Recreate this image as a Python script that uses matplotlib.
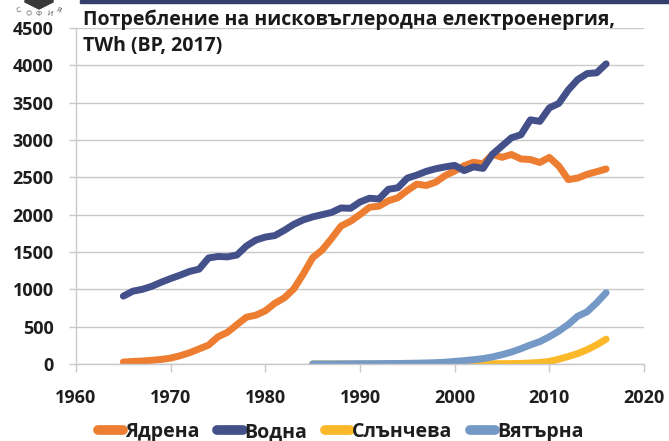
"""
Low-carbon electricity consumption chart (BP, 2017)
"""

import numpy as np
import matplotlib

matplotlib.use("Agg")
import matplotlib.pyplot as plt
from matplotlib.patches import Polygon, Rectangle

plt.rcParams["font.family"] = ["Open Sans", "DejaVu Sans"]

# data (TWh)
years_main = list(range(1965, 2017))
nuclear = [26, 34, 40, 50, 61, 79, 111, 151, 202, 253,
           364, 425, 527, 627, 654, 712, 813, 885, 1004, 1204,
           1424, 1526, 1682, 1848, 1912, 2001, 2099, 2114, 2186, 2227,
           2324, 2409, 2391, 2436, 2524, 2584, 2656, 2702, 2681, 2807,
           2768, 2806, 2746, 2738, 2699, 2767, 2651, 2470, 2490, 2541,
           2576, 2612]
hydro = [909, 975, 1000, 1040, 1095, 1145, 1190, 1240, 1270, 1420,
         1440, 1435, 1460, 1580, 1660, 1700, 1720, 1790, 1870, 1930,
         1970, 2000, 2030, 2090, 2085, 2170, 2220, 2210, 2340, 2360,
         2490, 2530, 2580, 2615, 2640, 2660, 2590, 2640, 2620, 2810,
         2920, 3030, 3070, 3270, 3250, 3430, 3490, 3670, 3810, 3890,
         3900, 4020]

years_new = list(range(1985, 2017))
solar = [0, 0, 0, 0, 0, 0, 0, 0, 0, 0,
         0, 0, 0, 0, 0, 1, 1.3, 1.8, 2.4, 3.4,
         4.5, 6, 8, 13, 21, 34, 65, 100, 140, 192,
         256, 333]
wind = [1, 1, 1, 2, 3, 4, 4, 5, 6, 7,
        9, 11, 14, 18, 24, 35, 45, 58, 72, 95,
        125, 160, 205, 255, 300, 365, 440, 530, 640, 700,
        820, 955]

labels = ["Ядрена", "Водна", "Слънчева", "Вятърна"]
colors = ["#ED7D31", "#44508A", "#FBB829", "#7599C6"]

xticks = list(range(1960, 2021, 10))
yticks = list(range(0, 4501, 500))

title = "Потребление на нисковъглеродна електроенергия,\nTWh (BP, 2017)"

W, H = 669, 441
fig = plt.figure(figsize=(W / 100, H / 100), dpi=100)
ax = fig.add_axes([76 / W, 1 - 364 / H, (644 - 76) / W, (364 - 28) / H])

series = [(years_main, nuclear), (years_main, hydro), (years_new, solar), (years_new, wind)]
for (xs, ys), lab, col in zip(series, labels, colors):
    ax.plot(xs, ys, color=col, lw=5, label=lab,
            solid_capstyle="round", solid_joinstyle="round")

grid_col = "#C9C9C9"
ax.set_xlim(1960, 2020)
ax.set_ylim(0, 4500)
ax.set_xticks(xticks)
ax.set_yticks(yticks)
ax.yaxis.grid(True, color=grid_col, lw=1)
ax.set_axisbelow(True)
for s in ["top", "right"]:
    ax.spines[s].set_visible(False)
for s in ["left", "bottom"]:
    ax.spines[s].set_color(grid_col)
    ax.spines[s].set_linewidth(1)
ax.tick_params(axis="x", length=6, width=1, color=grid_col, pad=12,
               labelsize=13, labelcolor="#1e1e1e")
ax.tick_params(axis="y", length=5, width=1, color=grid_col, pad=11,
               labelsize=13, labelcolor="#1e1e1e")
for t in ax.get_xticklabels() + ax.get_yticklabels():
    t.set_fontweight("bold")

fig.text(83 / W, 1 - 9 / H, title, fontsize=14, fontweight="bold",
         color="#1a1a1a", va="top", ha="left", linespacing=1.42)

leg = fig.legend(loc="center", bbox_to_anchor=(341 / W, 1 - 432 / H), ncol=4,
                 frameon=False, handlelength=1.3, handletextpad=0.1,
                 columnspacing=0.9, prop={"size": 14, "weight": "bold"})
for h in leg.get_lines():
    h.set_linewidth(7)
for t in leg.get_texts():
    t.set_color("#1e1e1e")

# top banner strip
fig.patches.append(Rectangle((80 / W, 1 - 3 / H), 1, 3 / H, transform=fig.transFigure,
                             color="#34406B", zorder=5))

# partial logo in the corner
chev = [(25, 0), (53, 0), (53, 2), (39, 9), (25, 2)]
fig.patches.append(Polygon([(x / W, 1 - y / H) for x, y in chev], closed=True,
                           transform=fig.transFigure, color="#3a3a3a"))
for ch, x, y, r in [("С", 19, 11, 25), ("О", 29, 14, 12), ("Ф", 39, 15, 0),
                    ("И", 49, 14, -12), ("Я", 59, 11, -25)]:
    fig.text(x / W, 1 - y / H, ch, fontsize=5.5, color="#555555",
             ha="center", va="center", rotation=r)

fig.savefig("out.png", dpi=100)
